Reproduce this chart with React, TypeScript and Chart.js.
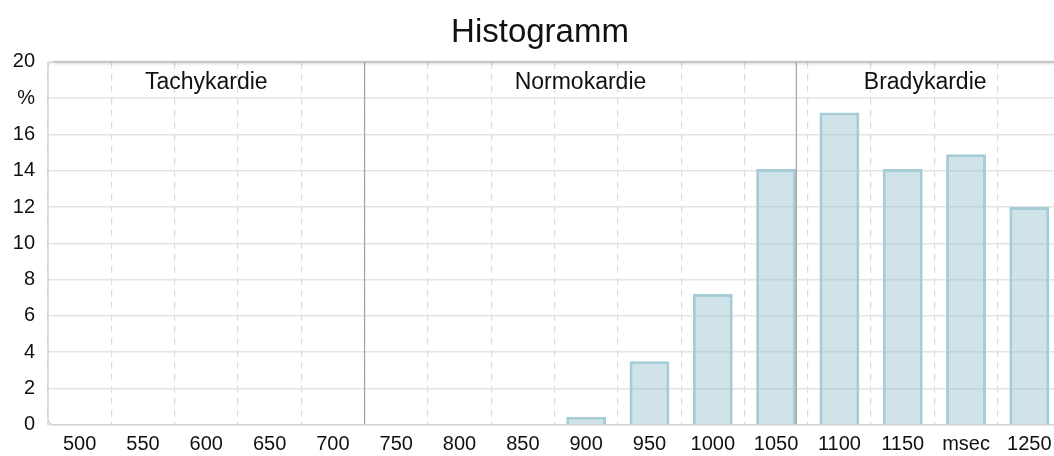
import React, { useEffect, useRef } from "react";
import { Chart, registerables } from "chart.js";

Chart.register(...registerables);

// ---- data ----
const xCategories = [500, 550, 600, 650, 700, 750, 800, 850, 900, 950, 1000, 1050, 1100, 1150, 1200, 1250];
const xTickLabels = ["500", "550", "600", "650", "700", "750", "800", "850", "900", "950", "1000", "1050", "1100", "1150", "msec", "1250"];
const percentValues = [0, 0, 0, 0, 0, 0, 0, 0, 0.45, 3.5, 7.2, 14.1, 17.2, 14.1, 14.9, 12.0];
const yTickLabels = ["0", "2", "4", "6", "8", "10", "12", "14", "16", "%", "20"];
const zoneNames = ["Tachykardie", "Normokardie", "Bradykardie"];
const zoneBoundariesMs = [725, 1066];
const chartTitle = "Histogramm";

const FONT = "'Liberation Sans', Arial, Helvetica, sans-serif";

const msToIndex = (ms: number) => (ms - xCategories[0]) / (xCategories[1] - xCategories[0]);

const zonesPlugin = {
  id: "zones",
  afterDatasetsDraw(chart: any) {
    const { ctx, chartArea, scales } = chart;
    const { left, right, top, bottom } = chartArea;
    const xs = scales.x;
    ctx.save();
    // title
    ctx.fillStyle = "#111";
    ctx.font = `33px ${FONT}`;
    ctx.textAlign = "center";
    ctx.textBaseline = "middle";
    ctx.fillText(chartTitle, 540, 33);
    // separator lines
    const bx = zoneBoundariesMs.map((ms) => xs.getPixelForValue(msToIndex(ms)));
    ctx.strokeStyle = "#a3a3a3";
    ctx.lineWidth = 1.2;
    bx.forEach((x) => {
      ctx.beginPath();
      ctx.moveTo(x, top);
      ctx.lineTo(x, bottom);
      ctx.stroke();
    });
    // box
    const r = 6;
    ctx.strokeStyle = "#d4d4d4";
    ctx.lineWidth = 1.5;
    ctx.beginPath();
    ctx.moveTo(right + 10, bottom);
    ctx.lineTo(left + r, bottom);
    ctx.quadraticCurveTo(left, bottom, left, bottom - r);
    ctx.lineTo(left, top + r);
    ctx.quadraticCurveTo(left, top, left + r, top);
    ctx.lineTo(right + 10, top);
    ctx.stroke();
    // top edge with shadow
    ctx.save();
    ctx.shadowColor = "rgba(0,0,0,0.25)";
    ctx.shadowBlur = 3;
    ctx.shadowOffsetY = 1;
    ctx.strokeStyle = "#c4c4c4";
    ctx.lineWidth = 1.5;
    ctx.beginPath();
    ctx.moveTo(left + r, top);
    ctx.lineTo(right + 10, top);
    ctx.stroke();
    ctx.restore();
    // zone labels
    const visRight = Math.min(right, 1054);
    const edges = [left, ...bx, visRight];
    ctx.fillStyle = "#111";
    ctx.font = `23px ${FONT}`;
    ctx.textAlign = "center";
    ctx.textBaseline = "alphabetic";
    zoneNames.forEach((name, i) => {
      ctx.fillText(name, (edges[i] + edges[i + 1]) / 2, top + 27);
    });
    ctx.restore();
  },
};

export default function App() {
  const ref = useRef<HTMLCanvasElement>(null);
  useEffect(() => {
    if (!ref.current) return;
    const chart = new Chart(ref.current, {
      type: "bar",
      data: {
        labels: xTickLabels,
        datasets: [
          {
            data: percentValues,
            backgroundColor: "rgba(150,192,205,0.45)",
            borderColor: "rgb(166,204,214)",
            borderWidth: 3,
            barPercentage: 0.63,
            categoryPercentage: 1,
          },
        ],
      },
      options: {
        animation: false,
        responsive: true,
        maintainAspectRatio: false,
        layout: { padding: { top: 61.8, left: 0, right: 0, bottom: 0 } },
        plugins: {
          legend: { display: false },
          tooltip: { enabled: false },
          title: { display: false },
        },
        scales: {
          x: {
            offset: true,
            grid: { offset: true, color: "#dcdcdc", lineWidth: 1.2, drawTicks: false },
            border: { display: false, dash: [7, 5] },
            ticks: {
              autoSkip: false,
              maxRotation: 0,
              color: "#111",
              padding: 8,
              font: { family: FONT, size: 20 },
            },
            afterFit: (s: any) => {
              s.height = 31.2;
            },
          },
          y: {
            min: 0,
            max: 20,
            ticks: {
              stepSize: 2,
              color: "#111",
              padding: 13,
              font: { family: FONT, size: 20 },
              callback: (_v: any, i: number) => yTickLabels[i],
            },
            grid: { color: "#e4e4e4", lineWidth: 1.5, drawTicks: false },
            border: { display: false },
            afterFit: (s: any) => {
              s.width = 48;
            },
          },
        },
      },
      plugins: [zonesPlugin],
    });
    return () => chart.destroy();
  }, []);
  return (
    <div style={{ position: "fixed", left: 0, top: 0, width: 1054, height: 456, overflow: "hidden", background: "#fff" }}>
      <div style={{ position: "relative", width: 1061, height: 456 }}>
        <canvas ref={ref} />
      </div>
    </div>
  );
}
